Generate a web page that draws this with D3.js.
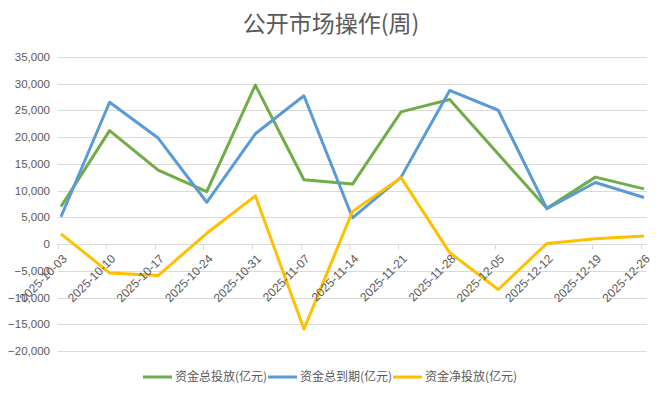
<!DOCTYPE html>
<html>
<head>
<meta charset="utf-8">
<script src="https://cdn.jsdelivr.net/npm/d3@7"></script>
<style>
  body { margin: 0; background: #fff; }
  text { font-family: "Liberation Sans", "Noto Sans CJK SC", sans-serif; fill: #595959; }
</style>
</head>
<body>
<script>
// weekly open market operations
const dates = ["2025-10-03", "2025-10-10", "2025-10-17", "2025-10-24", "2025-10-31", "2025-11-07", "2025-11-14",
  "2025-11-21", "2025-11-28", "2025-12-05", "2025-12-12", "2025-12-19", "2025-12-26"];
const totalInjection = [7000, 21200, 13800, 9800, 29700, 12000, 11200, 24700, 27000, 16800, 6700, 12500, 10300];
const totalMaturity = [5100, 26500, 19800, 7800, 20600, 27700, 4900, 12500, 28700, 25000, 6600, 11500, 8700];
const netInjection = [1900, -5400, -5900, 2000, 9000, -15900, 6100, 12400, -1600, -8500, 100, 1000, 1500];
const yTicks = [-20000, -15000, -10000, -5000, 0, 5000, 10000, 15000, 20000, 25000, 30000, 35000];
const seriesNames = ["资金总投放(亿元)", "资金总到期(亿元)", "资金净投放(亿元)"];
const seriesColors = ["#70AD47", "#5B9BD5", "#FFC000"];

const width = 662, height = 397;
const svg = d3.select("body").append("svg")
  .attr("width", width)
  .attr("height", height);

const x = d3.scalePoint().domain(dates).range([61, 644]);
const y = d3.scaleLinear().domain([-20000, 35000]).range([351, 56.75]);
const plotLeft = 57.7, plotRight = 646.7;
const tickShift = -3.3;

// title
svg.append("text")
  .attr("x", 331)
  .attr("y", 32)
  .attr("text-anchor", "middle")
  .style("font-family", "'Noto Sans CJK SC', sans-serif")
  .style("font-size", "23px")
  .text("公开市场操作(周)");

// gridlines
svg.append("g")
  .selectAll("line")
  .data(yTicks)
  .enter().append("line")
  .attr("x1", plotLeft)
  .attr("x2", plotRight)
  .attr("y1", d => Math.round(y(d)) + 0.5)
  .attr("y2", d => Math.round(y(d)) + 0.5)
  .attr("stroke", "#d9d9d9")
  .attr("stroke-width", 1);

// y labels
svg.append("g")
  .selectAll("text")
  .data(yTicks)
  .enter().append("text")
  .attr("x", 50)
  .attr("y", d => y(d))
  .attr("dy", "0.35em")
  .attr("text-anchor", "end")
  .style("font-size", "11.5px")
  .text(d => d3.format(",")(d));

// category ticks on the zero line
const zeroY = Math.round(y(0)) + 0.5;
svg.append("g")
  .selectAll("line")
  .data(dates)
  .enter().append("line")
  .attr("x1", d => Math.round(x(d) + tickShift) + 0.5)
  .attr("x2", d => Math.round(x(d) + tickShift) + 0.5)
  .attr("y1", zeroY)
  .attr("y2", zeroY + 5)
  .attr("stroke", "#d9d9d9");

// series lines
const line = d3.line()
  .x((d, i) => x(dates[i]))
  .y(d => y(d));

[totalInjection, totalMaturity, netInjection].forEach((vals, k) => {
  svg.append("path")
    .datum(vals)
    .attr("d", line)
    .attr("fill", "none")
    .attr("stroke", seriesColors[k])
    .attr("stroke-width", 3)
    .attr("stroke-linejoin", "round");
});

// x labels, rotated, drawn over the lines
svg.append("g")
  .selectAll("text")
  .data(dates)
  .enter().append("text")
  .attr("transform", d => `translate(${x(d) + tickShift + 7},${zeroY + 12}) rotate(-45)`)
  .attr("text-anchor", "end")
  .attr("dy", "0.35em")
  .style("font-size", "12px")
  .text(d => d);

// legend
const legendX = [143, 268, 393];
const legend = svg.append("g")
  .selectAll("g")
  .data(seriesNames)
  .enter().append("g")
  .attr("transform", (d, i) => `translate(${legendX[i]},377)`);
legend.append("line")
  .attr("x1", 0)
  .attr("x2", 29)
  .attr("stroke", (d, i) => seriesColors[i])
  .attr("stroke-width", 3);
legend.append("text")
  .attr("x", 32)
  .attr("dy", "0.35em")
  .style("font-family", "'Noto Sans CJK SC', sans-serif")
  .style("font-size", "12px")
  .text(d => d);
</script>
</body>
</html>
